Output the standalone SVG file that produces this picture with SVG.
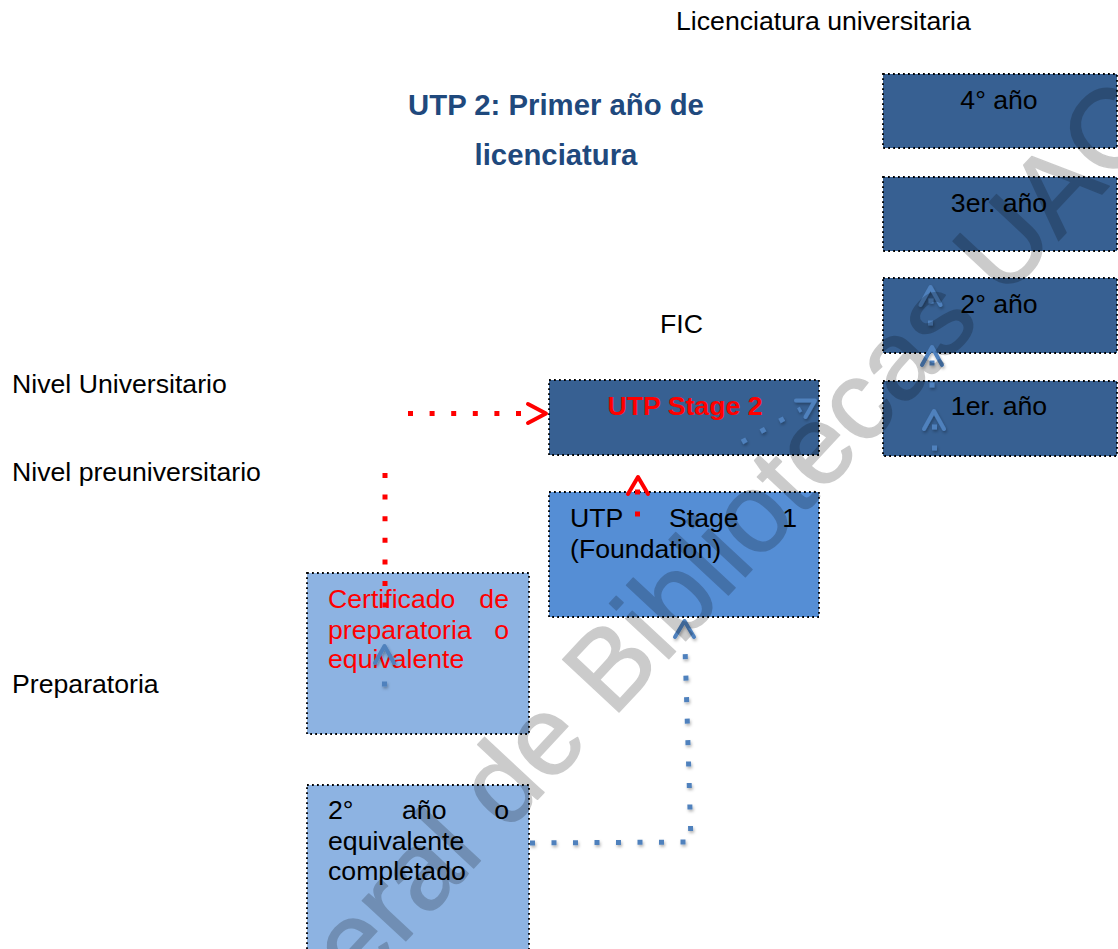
<svg xmlns="http://www.w3.org/2000/svg" width="1118" height="949" viewBox="0 0 1118 949">
  <defs>
    <style>
      text { font-family: "Liberation Sans", Arial, sans-serif; font-size: 26.67px; fill: #000; }
      .box { stroke: #000; stroke-width: 1.8; stroke-dasharray: 1.8 3.2; }
      .dark { fill: #376092; }
      .mid { fill: #558ED5; }
      .light { fill: #8DB3E2; }
      .red { fill: #FF0000; }
      .bold { font-weight: bold; }
      .title { font-weight: bold; font-size: 29.3px; fill: #1F497D; }
      .rdots { fill: none; stroke: #FF0000; stroke-width: 5; stroke-dasharray: 5 16.6; }
      .rhead { fill: none; stroke: #FF0000; stroke-width: 4; stroke-linecap: round; stroke-linejoin: round; }
      .bdots { fill: none; stroke: #4F81BD; stroke-width: 5; stroke-dasharray: 5 16.5; }
      .bhead { fill: none; stroke: #4F81BD; stroke-width: 4; stroke-linecap: round; stroke-linejoin: round; }
      .bdot { fill: #4F81BD; }
      .wm { font-size: 112px; fill: #000; stroke: #000; stroke-width: 1.5; stroke-linejoin: round; opacity: 0.2; }
    </style>
    <filter id="sh" x="-20%" y="-20%" width="140%" height="140%">
      <feDropShadow dx="1" dy="2" stdDeviation="1.5" flood-color="#000" flood-opacity="0.3"/>
    </filter>
  </defs>

  <rect width="1118" height="949" fill="#fff"/>

  <!-- labels -->
  <g id="labels">
    <text x="676" y="30">Licenciatura universitaria</text>
    <text class="title" x="556" y="115" text-anchor="middle">UTP 2: Primer año de</text>
    <text class="title" x="556" y="165" text-anchor="middle">licenciatura</text>
    <text x="660" y="333">FIC</text>
    <text x="12" y="393">Nivel Universitario</text>
    <text x="12" y="481">Nivel preuniversitario</text>
    <text x="12" y="693">Preparatoria</text>
  </g>

  <!-- nodes -->
  <g id="n-4ano">
    <rect class="box dark" x="883" y="74" width="234" height="74"/>
    <text x="999" y="109" text-anchor="middle">4° año</text>
  </g>
  <g id="n-3ano">
    <rect class="box dark" x="883" y="177" width="234" height="74"/>
    <text x="999" y="212" text-anchor="middle">3er. año</text>
  </g>
  <g id="n-2ano">
    <rect class="box dark" x="883" y="278" width="234" height="75"/>
    <text x="999" y="313" text-anchor="middle">2° año</text>
  </g>
  <g id="n-1ano">
    <rect class="box dark" x="883" y="381" width="234" height="75"/>
    <text x="999" y="415" text-anchor="middle">1er. año</text>
  </g>
  <g id="n-utp2">
    <rect class="box dark" x="549" y="380" width="270" height="75"/>
    <text class="bold red" x="685" y="415" text-anchor="middle">UTP Stage 2</text>
  </g>
  <g id="n-utp1">
    <rect class="box mid" x="549" y="492" width="270" height="125"/>
    <text x="570" y="527">UTP</text>
    <text x="669" y="527">Stage</text>
    <text x="797" y="527" text-anchor="end">1</text>
    <text x="570" y="558">(Foundation)</text>
  </g>
  <g id="n-cert">
    <rect class="box light" x="307" y="573" width="222" height="161"/>
    <text class="red" x="328" y="608">Certificado</text>
    <text class="red" x="509" y="608" text-anchor="end">de</text>
    <text class="red" x="328" y="639">preparatoria</text>
    <text class="red" x="509" y="639" text-anchor="end">o</text>
    <text class="red" x="328" y="668">equivalente</text>
  </g>
  <g id="n-2eq">
    <rect class="box light" x="307" y="785" width="222" height="175"/>
    <text x="328" y="819">2°</text>
    <text x="402" y="819">año</text>
    <text x="509" y="819" text-anchor="end">o</text>
    <text x="328" y="850">equivalente</text>
    <text x="328" y="880">completado</text>
  </g>

  <!-- connectors -->
  <g id="connectors">
    <!-- red: certificado -> UTP stage 2 -->
    <path class="rdots" d="M385 473 V608"/>
    <path class="rdots" d="M408 413.5 H530"/>
    <path class="rhead" d="M528 404 L546 413.5 L528 423"/>
    <!-- red: UTP1 -> UTP2 -->
    <rect class="red" x="635" y="511.5" width="5" height="5"/>
    <rect class="red" x="635" y="489.5" width="5" height="5"/>
    <path class="rhead" d="M628 494 L638 477 L648 494"/>

    <g filter="url(#sh)">
      <!-- blue: 2° año -> UTP1 -->
      <path class="bdots" d="M530 843 L691 842 L685 647"/>
      <path class="bhead" d="M675 637 L684.5 621 L694 637"/>
      <!-- blue in certificado -->
      <path class="bhead" d="M375 663 L384.5 646 L394 663"/>
      <rect class="bdot" x="382" y="681.5" width="5" height="5"/>
      <!-- blue in UTP2 -->
      <path class="bdots" d="M742 442 L801 409"/>
      <path class="bhead" d="M796 400.5 L815 400.5 L805.5 417"/>
      <!-- blue in right column -->
      <path class="bhead" d="M920.5 305 L930.5 287 L940.5 305"/>
      <rect class="bdot" x="928.5" y="298.5" width="5" height="5"/>
      <rect class="bdot" x="928" y="320.5" width="5" height="5"/>
      <path class="bhead" d="M922 365 L932 347 L942 365"/>
      <rect class="bdot" x="929.5" y="360.5" width="5" height="5"/>
      <rect class="bdot" x="929.5" y="382.5" width="5" height="5"/>
      <path class="bhead" d="M924 429 L934 411 L944 429"/>
      <rect class="bdot" x="932" y="424.5" width="5" height="5"/>
      <rect class="bdot" x="932" y="445.5" width="5" height="5"/>
    </g>
  </g>

  <!-- watermark -->
  <text class="wm" transform="translate(358,992) rotate(-47)">eral de Bibliotecas UAC</text>
</svg>
